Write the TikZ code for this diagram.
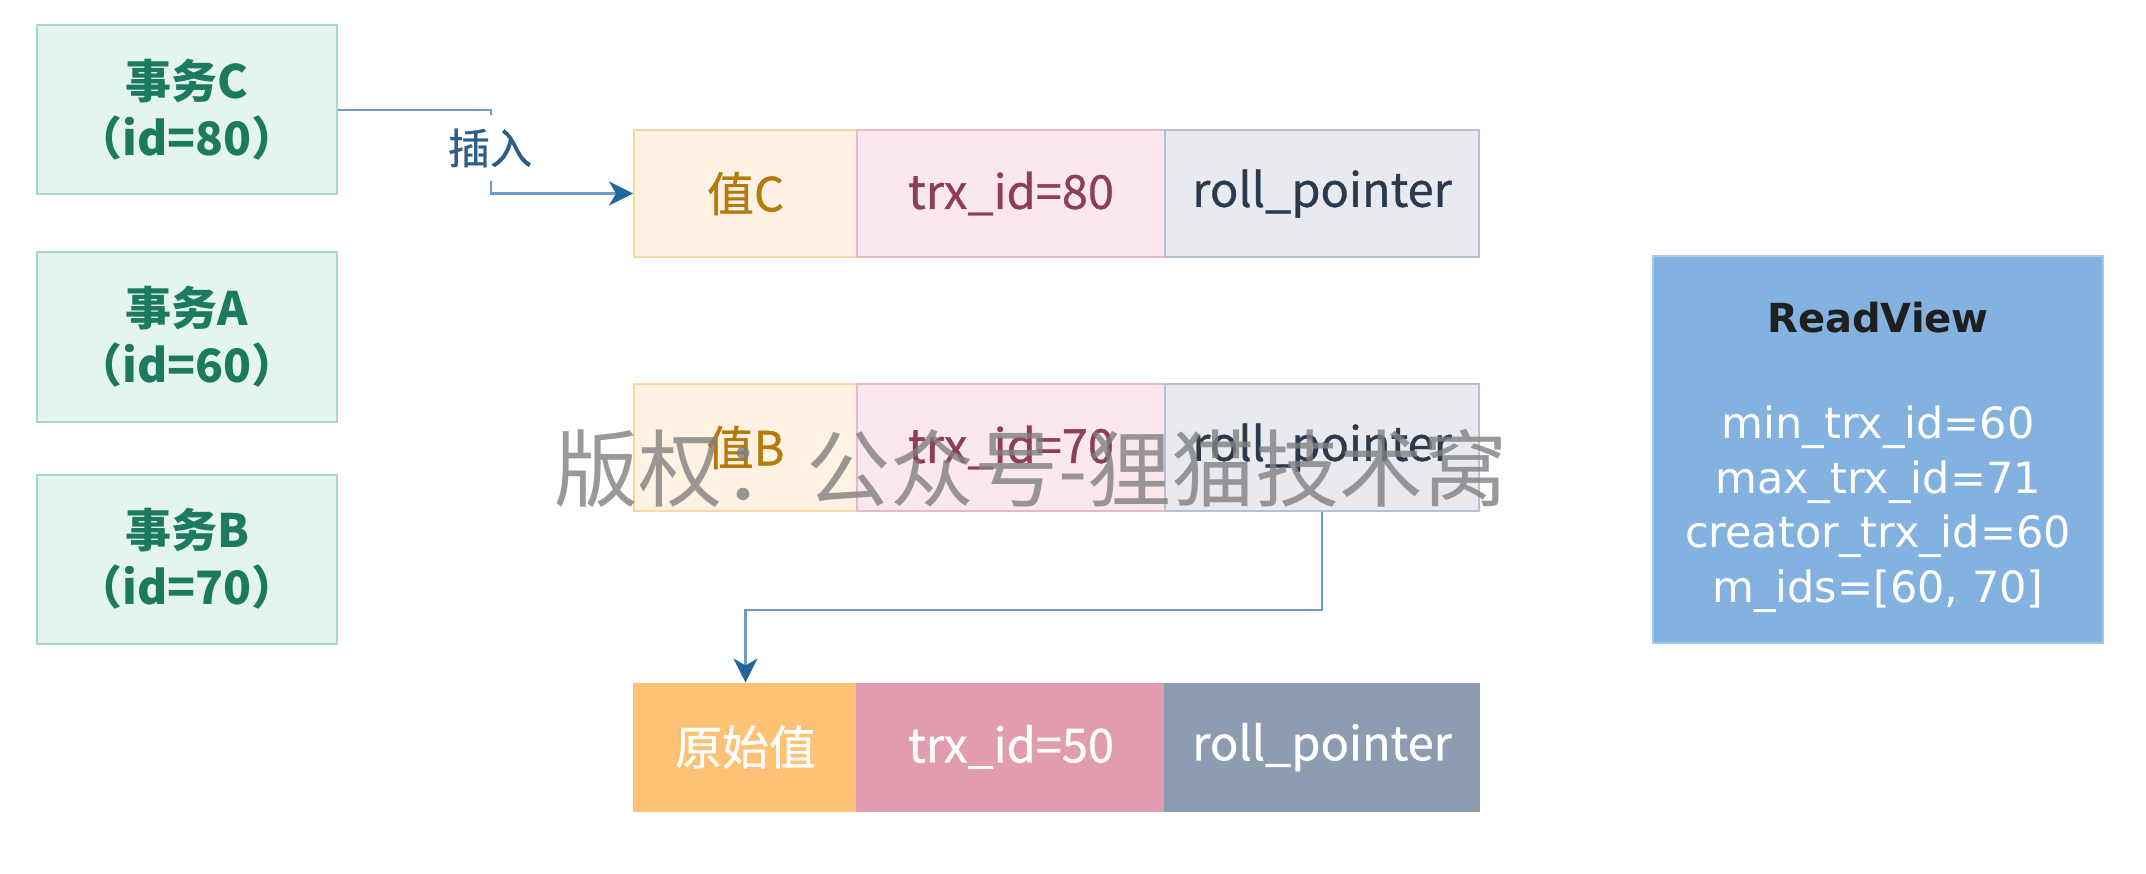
\documentclass[tikz,border=0pt]{standalone}
\usepackage{fontspec}
\setmainfont{Noto Sans CJK SC}
\newfontfamily\medfont[FakeBold=0.7]{Noto Sans CJK SC}
\newfontfamily\rvfont{DejaVu Sans}
\usetikzlibrary{arrows.meta,calc}
\definecolor{transFill}{HTML}{E4F4EF}
\definecolor{transBorder}{HTML}{A8D8C8}
\definecolor{transText}{HTML}{1C7A5E}
\definecolor{vFill}{HTML}{FFF2E3}
\definecolor{vBorder}{HTML}{FAD6A6}
\definecolor{vText}{HTML}{B57A0C}
\definecolor{tFill}{HTML}{FBE8EE}
\definecolor{tBorder}{HTML}{E8B9C7}
\definecolor{tText}{HTML}{8E3D5C}
\definecolor{rFill}{HTML}{E8EAEF}
\definecolor{rBorder}{HTML}{B8C0CD}
\definecolor{rText}{HTML}{2C3A4E}
\definecolor{vDark}{HTML}{FFC174}
\definecolor{tDark}{HTML}{E29CB0}
\definecolor{rDark}{HTML}{8D9CB1}
\definecolor{rvFill}{HTML}{83B1E0}
\definecolor{rvBorder}{HTML}{A6C8EA}
\definecolor{lineCol}{HTML}{6E9CC6}
\definecolor{tipCol}{HTML}{22679B}
\definecolor{insText}{HTML}{2B5F8A}
\tikzset{
  trans/.style={draw=transBorder, fill=transFill, line width=2pt, minimum width=300pt, minimum height=169pt,
    text=transText, font=\fontsize{46}{57}\selectfont\bfseries, align=center, inner sep=0pt},
  cell/.style={line width=2pt, minimum height=127pt, inner sep=0pt, font=\medfont\fontsize{47}{58}\selectfont},
  wA/.style={cell, minimum width=223pt},
  wB/.style={cell, minimum width=308pt},
  wC/.style={cell, minimum width=314pt},
  conn/.style={draw=lineCol, line width=2.5pt, -{Stealth[length=24pt,width=24pt,inset=7pt,fill=tipCol,color=tipCol]}},
}
\begin{document}
\begin{tikzpicture}[x=1pt,y=-1pt]
\useasboundingbox[fill=white] (0,0) rectangle (2146,874);
% transactions
\node[trans] (tC) at (187,110) {事务C\\（id=80）};
\node[trans] (tA) at (187,337) {事务A\\（id=60）};
\node[trans] (tB) at (187,559) {事务B\\（id=70）};
% row C
\node[wA, fill=vFill, draw=vBorder, text=vText] (valC) at (745.5,193.5) {值C};
\node[wB, fill=tFill, draw=tBorder, text=tText] (trxC) at (1011,193.5) {trx\_id=80};
\node[wC, fill=rFill, draw=rBorder, text=rText] (rpC) at (1322,193.5) {roll\_pointer};
% row B
\node[wA, fill=vFill, draw=vBorder, text=vText] (valB) at (745.5,447.5) {值B};
\node[wB, fill=tFill, draw=tBorder, text=tText] (trxB) at (1011,447.5) {trx\_id=70};
\node[wC, fill=rFill, draw=rBorder, text=rText] (rpB) at (1322,447.5) {roll\_pointer};
% original row
\node[wA, fill=vDark, draw=vDark, text=white] (valO) at (745.5,747) {原始值};
\node[wB, fill=tDark, draw=tDark, text=white] (trxO) at (1011,747) {trx\_id=50};
\node[wC, fill=rDark, draw=rDark, text=white] (rpO) at (1322,747) {roll\_pointer};
% ReadView
\node[draw=rvBorder, fill=rvFill, line width=2pt, minimum width=450pt, minimum height=387pt] (rv) at (1878,449.5) {};
\node[font=\rvfont\fontsize{40}{48}\selectfont\bfseries, text=black!88] (rvT) at (1878,318) {ReadView};
\node[font=\rvfont\fontsize{43}{54.5}\selectfont, text=white, align=center] (rvL) at (1878,509) {min\_trx\_id=60\\max\_trx\_id=71\\creator\_trx\_id=60\\m\_ids=[60, 70]};
% connectors
\coordinate (k1) at (491,193.5);
\draw[conn] (tC.east) -| (k1) -- (valC.west);
\node[fill=white, text=insText, font=\medfont\fontsize{42}{50}\selectfont, inner sep=1pt, minimum height=66pt] (ins) at (490,148) {插入};
\coordinate (k2) at (1322,610);
\draw[conn] (rpB.south) -- (k2) -| (valO.north);
% watermark
\node[text=gray, opacity=0.8, font=\fontsize{84}{90}\selectfont] (wm) at (1031,468) {版权：公众号-狸猫技术窝};
\end{tikzpicture}
\end{document}
